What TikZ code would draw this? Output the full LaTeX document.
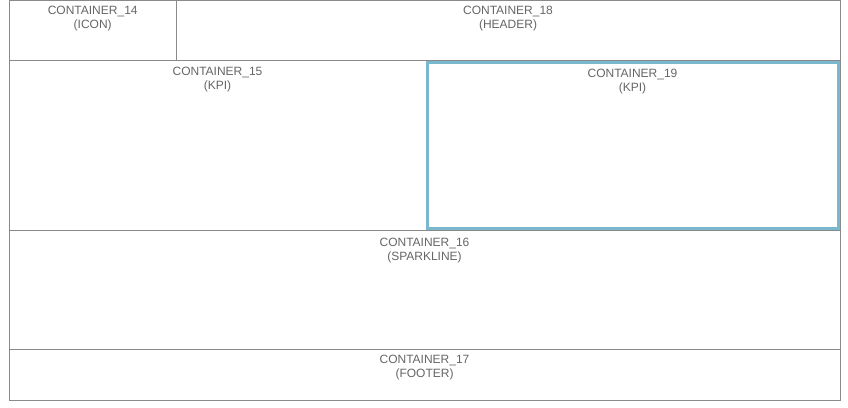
\documentclass[tikz,border=0pt]{standalone}
\usepackage{fontspec}
\setmainfont{Liberation Sans}
\definecolor{linegrey}{HTML}{8A8A8A}
\definecolor{textgrey}{HTML}{666666}
\definecolor{selblue}{HTML}{7AB8CE}
\begin{document}
\begin{tikzpicture}[x=1pt,y=-1pt,
  box/.style={draw=linegrey,line width=1pt},
  selbox/.style={draw=selblue,line width=3pt},
  lbl/.style={anchor=north,inner sep=0pt,align=center,text=textgrey,
    font=\fontsize{12}{14}\selectfont}]
\useasboundingbox (0,0) rectangle (848,407);
\fill[white] (0,0) rectangle (848,407);
% containers
\draw[box] (9.5,0.5) rectangle (176,60.5) coordinate (c14se);
\draw[box] (176,0.5) rectangle (840.5,60.5);
\draw[box] (9.5,60.5) rectangle (426,230.5);
\draw[box] (426,60.5) rectangle (840.5,230.5);
\draw[box] (9.5,230.5) rectangle (840.5,349.5);
\draw[box] (9.5,349.5) rectangle (840.5,400.5);
\draw[selbox] (427,62.5) rectangle (838.5,228.5);
% labels
\node[lbl] (c14) at (92.7,6.3) {CONTAINER\_14\\(ICON)};
\node[lbl] (c18) at (508,6.3) {CONTAINER\_18\\(HEADER)};
\node[lbl] (c15) at (217.5,67.3) {CONTAINER\_15\\(KPI)};
\node[lbl] (c19) at (632.5,69.3) {CONTAINER\_19\\(KPI)};
\node[lbl] (c16) at (424.5,238) {CONTAINER\_16\\(SPARKLINE)};
\node[lbl] (c17) at (424.5,355) {CONTAINER\_17\\(FOOTER)};
\end{tikzpicture}
\end{document}
